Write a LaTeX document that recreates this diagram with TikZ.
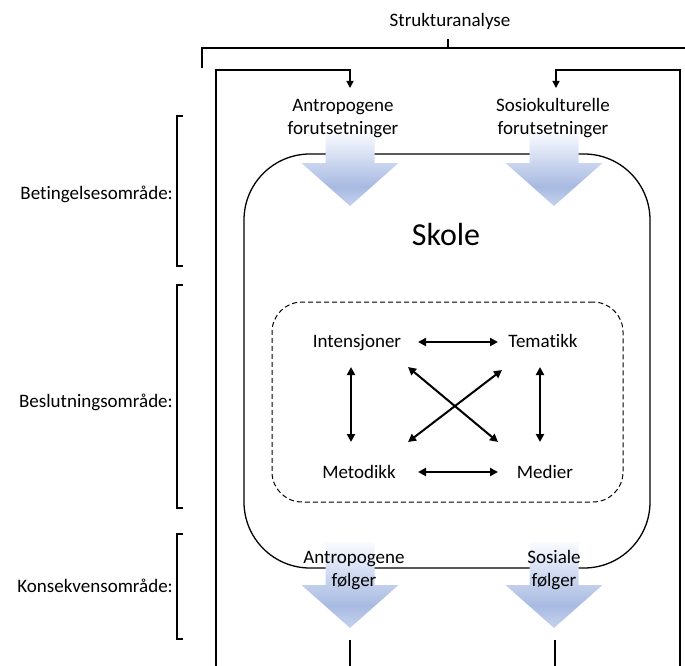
\documentclass[tikz,border=0pt]{standalone}
\usepackage{fontspec}
\setmainfont{Carlito}[Ligatures=NoCommon]
\usetikzlibrary{arrows.meta,calc}

\definecolor{arrtip}{RGB}{198,211,238}
\definecolor{arrmid}{RGB}{168,186,225}
\definecolor{arrhead}{RGB}{200,212,238}
\definecolor{arrtop}{RGB}{250,251,255}

% soft blue fade for the big block arrows (path bbox maps to 25bp..75bp)
\pgfdeclareverticalshading{blockfade}{100bp}{color(0bp)=(arrtip); color(25bp)=(arrtip); color(38bp)=(arrmid); color(53bp)=(arrhead); color(75bp)=(arrtop); color(100bp)=(arrtop)}

% block arrow: centre x, shaft top y, head start y, tip y
\newcommand{\blockarr}[4]{%
  \shade[shading=blockfade]
    ({#1-24.5},#2) -- ({#1+24.5},#2) -- ({#1+24.5},#3) -- ({#1+48.5},#3)
    -- (#1,#4) -- ({#1-48.5},#3) -- ({#1-24.5},#3) -- cycle;}

\tikzset{
  txt/.style={font=\fontsize{19}{23}\selectfont, inner sep=0pt, align=center},
  frameline/.style={line width=1.3pt},
  feed/.style={line width=1.3pt, -{Triangle[length=7pt,width=7pt]}},
  dbl/.style={line width=2pt, {Triangle[length=8pt,width=8pt]}-{Triangle[length=8pt,width=8pt]}},
  bracketline/.style={line width=1.2pt, line cap=rect},
}

\begin{document}
\begin{tikzpicture}[x=1pt, y=-1pt]
\useasboundingbox (0,0) rectangle (685,666);

% top bracket and title
\node[txt, anchor=base] (title) at (450,27) {Strukturanalyse};
\coordinate (brL) at (202,67);
\coordinate (brLt) at (202,48);
\coordinate (brR) at (690,48);
\coordinate (brM) at (448,48);
\draw[bracketline] (brL) -- (brLt) -- (brR);
\draw[bracketline] (brM) -- ++(0,-8);

% outer frame with the feeding arrows at the top
\coordinate (fTL) at (216,70);
\coordinate (fTR) at (680,70);
\coordinate (fBL) at (216,670);
\coordinate (fBR) at (680,670);
\coordinate (inA) at (350,88);
\coordinate (inS) at (556,88);
\draw[feed] (fBL) -- (fTL) -| (inA);
\draw[feed] (fBR) -- (fTR) -| (inS);

% school box
\node[draw, line width=1.3pt, rounded corners=66pt, minimum width=406pt, minimum height=414pt, inner sep=0pt] (school) at (447,361) {};
\node[font=\fontsize{32}{38}\selectfont, inner sep=0pt, anchor=base] (skole) at (446,245) {Skole};

% decision area
\node[draw, dash pattern=on 5pt off 3pt, line width=1pt, rounded corners=30pt, minimum width=351pt, minimum height=200pt, inner sep=0pt] (decision) at (447.5,402) {};

% block arrows in and out of the school
\blockarr{350}{132}{163}{206}
\blockarr{554}{132}{163}{206}
\blockarr{350}{542}{585}{628}
\blockarr{554}{542}{585}{628}

% condition and consequence labels (base = last line)
\node[txt, anchor=base] (antF) at (343,135) {Antropogene\\forutsetninger};
\node[txt, anchor=base] (sosF) at (553,135) {Sosiokulturelle\\forutsetninger};
\node[txt, anchor=base] (antK) at (354,586) {Antropogene\\følger};
\node[txt, anchor=base] (sosK) at (554,586) {Sosiale\\følger};

% outgoing lines
\coordinate (outA) at (350,640);
\coordinate (outS) at (555,640);
\coordinate (outAe) at (350,670);
\coordinate (outSe) at (555,670);
\draw[frameline] (outA) -- (outAe);
\draw[frameline] (outS) -- (outSe);

% the four didactic factors
\node[txt, anchor=base] (int) at (357,347) {Intensjoner};
\node[txt, anchor=base] (tem) at (543,347) {Tematikk};
\node[txt, anchor=base] (met) at (359,478) {Metodikk};
\node[txt, anchor=base] (med) at (545,478) {Medier};

\draw[dbl] ($(int.base)+(61,-5)$) -- ($(tem.base)+(-45,-5)$);
\draw[dbl] ($(met.base)+(59,-6)$) -- ($(med.base)+(-47,-6)$);
\draw[dbl] ($(int.base)+(-6,20)$) -- ($(met.base)+(-8,-36)$);
\draw[dbl] ($(tem.base)+(-3,20)$) -- ($(med.base)+(-5,-36)$);
\draw[dbl] ($(int.base)+(51,20)$) -- ($(med.base)+(-47,-36)$);
\draw[dbl] ($(met.base)+(49,-36)$) -- ($(tem.base)+(-41,23)$);

% areas on the left
\node[txt, anchor=base east] (beting) at (173,199) {Betingelsesområde:};
\node[txt, anchor=base east] (beslut) at (173,407) {Beslutningsområde:};
\node[txt, anchor=base east] (konsek) at (173,592) {Konsekvensområde:};
\draw[bracketline] (182,116) -- (177,116) -- (177,266) -- (182,266);
\draw[bracketline] (182,285) -- (177,285) -- (177,508) -- (182,508);
\draw[bracketline] (182,534) -- (177,534) -- (177,639) -- (182,639);
\end{tikzpicture}
\end{document}
